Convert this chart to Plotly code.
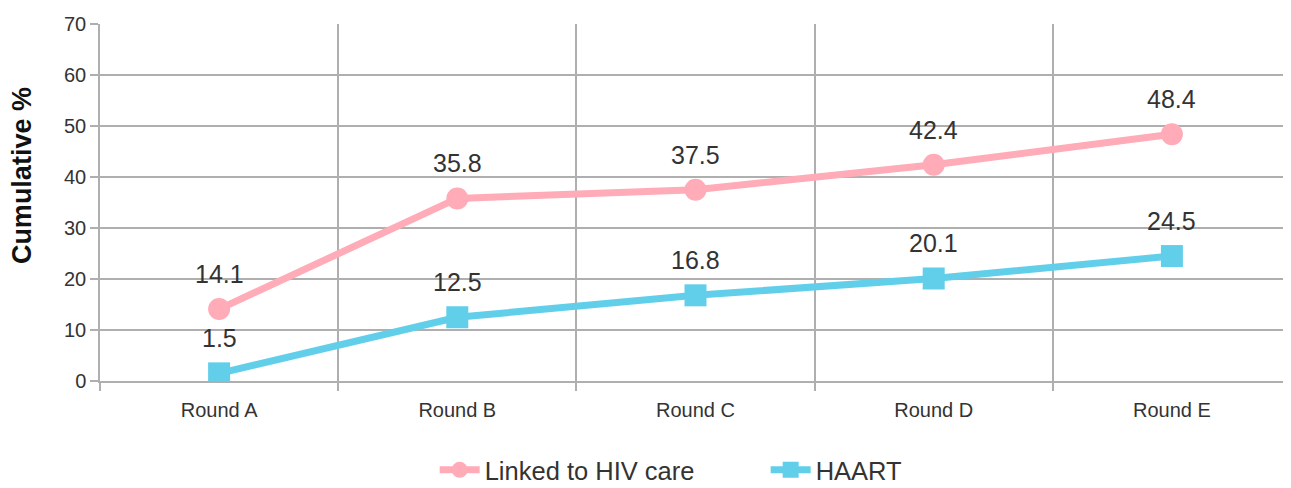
import plotly.graph_objects as go

rounds = ["Round A", "Round B", "Round C", "Round D", "Round E"]
linked = [14.1, 35.8, 37.5, 42.4, 48.4]
haart = [1.5, 12.5, 16.8, 20.1, 24.5]

pink = "#FFABB8"
blue = "#62CFEA"
grid = "#AFAFAF"
txt = "#333333"
font_family = "Liberation Sans, Arial, sans-serif"

fig = go.Figure()
fig.add_trace(go.Scatter(
    x=rounds, y=linked, name="Linked to HIV care",
    mode="lines+markers",
    line=dict(color=pink, width=7),
    marker=dict(symbol="circle", size=22, color=pink),
))
fig.add_trace(go.Scatter(
    x=rounds, y=haart, name="HAART",
    mode="lines+markers",
    line=dict(color=blue, width=7),
    marker=dict(symbol="square", size=22, color=blue),
))

# value labels above each point
for series in (linked, haart):
    for r, v in zip(rounds, series):
        fig.add_annotation(x=r, y=v, text=f"{v}", showarrow=False, yshift=35,
                           font=dict(size=25, color=txt))

# y axis title, sits a bit above the middle like the original
fig.add_annotation(x=-0.066, y=0.575, xref="paper", yref="paper",
                   xanchor="center", yanchor="middle",
                   text="<b>Cumulative %</b>", textangle=-90, showarrow=False,
                   font=dict(size=27, color="#111111"))

fig.update_layout(
    width=1283, height=480,
    margin=dict(l=92, r=0, t=16, b=107),
    plot_bgcolor="white", paper_bgcolor="white",
    font=dict(family=font_family, color=txt),
    showlegend=True,
    legend=dict(orientation="h", xref="paper", x=0.281, xanchor="left",
                yref="container", y=0.037, yanchor="middle",
                font=dict(size=25.5, color=txt), itemwidth=40,
                entrywidth=276, entrywidthmode="pixels"),
)
fig.update_xaxes(
    type="category", range=[-0.5, 4.5], tickson="boundaries",
    showgrid=True, gridcolor=grid, gridwidth=1.5,
    ticks="outside", ticklen=8, tickcolor=grid, tickwidth=1.5,
    showline=True, linecolor=grid, linewidth=1.5,
    tickfont=dict(size=20, color=txt), zeroline=False,
    ticklabelstandoff=10,
)
fig.update_yaxes(
    range=[0, 70], dtick=10,
    showgrid=True, gridcolor=grid, gridwidth=1.5,
    ticks="outside", ticklen=8, tickcolor=grid, tickwidth=1.5,
    showline=True, linecolor=grid, linewidth=1.5,
    tickfont=dict(size=20, color=txt), zeroline=False,
)

fig.write_html("out.html")
